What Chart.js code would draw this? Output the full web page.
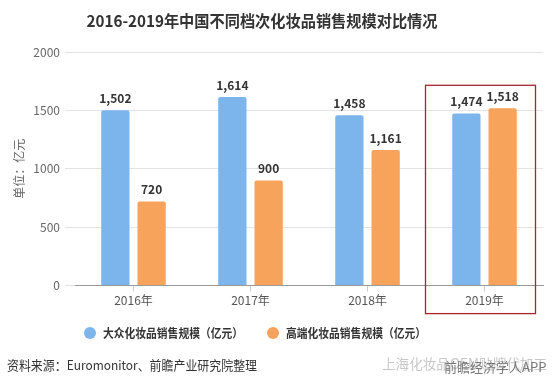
<!DOCTYPE html>
<html><head><meta charset="utf-8">
<script src="https://cdn.jsdelivr.net/npm/chart.js@4.4.0/dist/chart.umd.min.js"></script>
<style>html,body{margin:0;padding:0;background:#fff;}#wrap{width:559px;height:386px;}</style>
</head><body><div id="wrap"><canvas id="c" width="559" height="386"></canvas></div>
<script>
const categories = ['2016年', '2017年', '2018年', '2019年'];
const massMarket = [1502, 1614, 1458, 1474];
const highEnd = [720, 900, 1161, 1518];
const seriesNames = ['大众化妆品销售规模（亿元）', '高端化妆品销售规模（亿元）'];
const yTicks = [0, 500, 1000, 1500, 2000];
const titleText = '2016-2019年中国不同档次化妆品销售规模对比情况';
const yTitle = '单位：亿元';
const sourceText = '资料来源：Euromonitor、前瞻产业研究院整理';
const highlightIndex = 3;

const FONT = '"Microsoft YaHei","Noto Sans CJK SC","Noto Sans",sans-serif';

const extras = {
  id: 'extras',
  afterDatasetsDraw(chart) {
    const ctx = chart.ctx;
    ctx.save();
    ctx.font = 'bold 12px ' + FONT;
    ctx.fillStyle = '#333';
    ctx.textAlign = 'center';
    ctx.textBaseline = 'bottom';
    chart.data.datasets.forEach((ds, i) => {
      chart.getDatasetMeta(i).data.forEach((bar, j) => {
        ctx.fillText(ds.data[j].toLocaleString('en-US'), bar.x, bar.y - 6);
      });
    });
    ctx.restore();
  },
  afterDraw(chart) {
    const ctx = chart.ctx;
    const xs = chart.scales.x, ys = chart.scales.y;
    ctx.save();
    // title
    ctx.font = 'bold 16px ' + FONT;
    ctx.fillStyle = '#333';
    ctx.textAlign = 'center';
    ctx.textBaseline = 'middle';
    ctx.fillText(titleText, 262, 21, 351);
    // highlight box
    const cx = xs.getPixelForValue(highlightIndex);
    const top = ys.getPixelForValue(Math.max(massMarket[highlightIndex], highEnd[highlightIndex])) - 23;
    const bottom = chart.chartArea.bottom + 28;
    ctx.strokeStyle = '#a8262b';
    ctx.lineWidth = 1.3;
    ctx.strokeRect(cx - 59, top, 110, bottom - top);
    // legend
    const legendX = [90, 273];
    chart.data.datasets.forEach((ds, i) => {
      ctx.beginPath();
      ctx.arc(legendX[i], 333, 6, 0, Math.PI * 2);
      ctx.fillStyle = ds.backgroundColor;
      ctx.fill();
      ctx.font = 'bold 12px ' + FONT;
      ctx.fillStyle = '#333';
      ctx.textAlign = 'left';
      ctx.textBaseline = 'middle';
      ctx.fillText(ds.label, legendX[i] + 13, 333, 140);
    });
    // footer
    ctx.font = '13px ' + FONT;
    ctx.fillStyle = '#333';
    ctx.textAlign = 'left';
    ctx.textBaseline = 'middle';
    ctx.fillText(sourceText, 7, 365, 250);
    ctx.font = '14px ' + FONT;
    ctx.fillStyle = '#c8c8c8';
    ctx.fillText('上海化妆品OEM贴牌代加工', 382, 364, 165);
    ctx.font = '13px ' + FONT;
    ctx.fillStyle = '#777';
    ctx.fillText('前瞻经济学人APP', 444, 367, 113);
    ctx.restore();
  }
};

new Chart(document.getElementById('c'), {
  type: 'bar',
  data: {
    labels: categories,
    datasets: [
      { label: seriesNames[0], data: massMarket, backgroundColor: '#7cb5ec', borderRadius: {topLeft: 2, topRight: 2}, borderSkipped: 'bottom' },
      { label: seriesNames[1], data: highEnd, backgroundColor: '#f7a35c', borderRadius: {topLeft: 2, topRight: 2}, borderSkipped: 'bottom' }
    ]
  },
  options: {
    responsive: false,
    animation: false,
    layout: { padding: { left: 0, right: 16, top: 52, bottom: 76 } },
    datasets: { bar: { categoryPercentage: 0.62, barPercentage: 0.78 } },
    plugins: {
      legend: { display: false },
      tooltip: { enabled: false },
      title: { display: false }
    },
    scales: {
      x: {
        grid: { drawOnChartArea: false, offset: false, tickLength: 6, color: '#ccc' },
        border: { color: '#999' },
        ticks: { color: '#555', font: { family: FONT, size: 12 }, padding: 2 }
      },
      y: {
        min: 0, max: 2000,
        afterBuildTicks(axis) { axis.ticks = yTicks.map(v => ({ value: v })); },
        afterFit(axis) { axis.width = 75; },
        grid: { color: '#e3e3e3', tickLength: 10 },
        border: { display: false },
        ticks: { color: '#666', font: { family: FONT, size: 12 }, padding: 5, callback: v => String(v) },
        title: { display: true, text: yTitle, color: '#666', font: { family: FONT, size: 12 }, padding: { top: 12, bottom: 0 } }
      }
    }
  },
  plugins: [extras]
});
</script></body></html>
